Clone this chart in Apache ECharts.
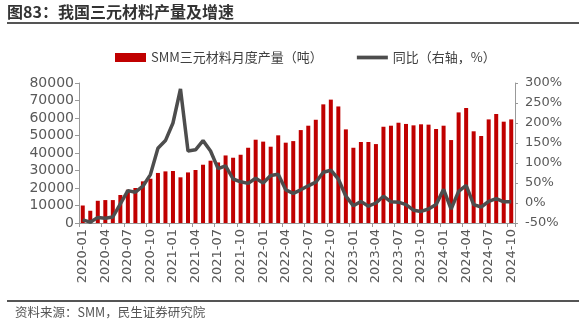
<!DOCTYPE html>
<html><head><meta charset="utf-8">
<script src="https://cdn.jsdelivr.net/npm/echarts@6/dist/echarts.min.js"></script>
<style>html,body{margin:0;padding:0;background:#fff}#c{width:579px;height:328px}</style></head>
<body><div id="c"></div>
<script>
const categories = [
 "2020-01","2020-02","2020-03","2020-04","2020-05","2020-06","2020-07","2020-08","2020-09","2020-10","2020-11","2020-12",
 "2021-01","2021-02","2021-03","2021-04","2021-05","2021-06","2021-07","2021-08","2021-09","2021-10","2021-11","2021-12",
 "2022-01","2022-02","2022-03","2022-04","2022-05","2022-06","2022-07","2022-08","2022-09","2022-10","2022-11","2022-12",
 "2023-01","2023-02","2023-03","2023-04","2023-05","2023-06","2023-07","2023-08","2023-09","2023-10","2023-11","2023-12",
 "2024-01","2024-02","2024-03","2024-04","2024-05","2024-06","2024-07","2024-08","2024-09","2024-10"];
const production = [10000,7000,12700,13100,13100,16000,19000,20000,23800,25300,
 28600,29500,29700,26100,28900,30300,33300,35600,34600,38600,
 37300,39000,43000,47600,46500,43600,50100,45900,46800,53100,
 55600,59000,67800,70500,66600,53500,43000,46300,46300,45100,
 55000,55600,57300,56600,55800,56400,56200,53700,55600,47400,
 63200,65700,52400,49700,59200,62300,57900,59200];
const yoy = [-42,-48,-36,-38,-35,-2,31,27,42,71,
 137,156,200,285,130,133,156,130,86,93,
 60,53,49,62,50,69,72,33,24,33,
 43,52,77,82,60,17,-7,4,-8,0,
 17,3,2,-4,-18,-21,-15,-4,34,-15,
 29,44,-4,-10,4,11,3,3];
const leftTicks = {min:0, max:80000, interval:10000};
const rightTicks = {min:-50, max:300, interval:50};
const seriesNames = ["SMM三元材料月度产量（吨）","同比（右轴，%）"];
const titleText = "图83：我国三元材料产量及增速";
const sourceText = "资料来源：SMM，民生证券研究院";

const cjk = '"Noto Sans CJK SC", sans-serif';
const lat = '"DejaVu Sans", sans-serif';
const chart = echarts.init(document.getElementById('c'), null, {renderer:'canvas'});
chart.setOption({
  animation:false,
  backgroundColor:'#fff',
  graphic:[
    {type:'text', left:7, top:4, style:{text:titleText, font:'bold 16px '+cjk, fill:'#333'}},
    {type:'line', shape:{x1:7,y1:23,x2:579,y2:23}, style:{stroke:'#555',lineWidth:2}},
    {type:'line', shape:{x1:7,y1:301,x2:579,y2:301}, style:{stroke:'#555',lineWidth:2}},
    {type:'text', left:15, top:306, style:{text:sourceText, font:'12.5px '+cjk, fill:'#555'}}
  ],
  legend:{
    left:110, top:46, itemWidth:31, itemHeight:9, itemGap:34,
    textStyle:{fontFamily:cjk, fontSize:13, color:'#404040'},
    data:[{name:seriesNames[0], icon:'rect'},
          {name:seriesNames[1], icon:'path://M0,0H100V12H0Z'}]
  },
  grid:{left:79, right:64, top:83, bottom:105, containLabel:false},
  xAxis:{
    type:'category', data:categories, boundaryGap:true,
    axisLine:{lineStyle:{color:'#999', width:1}},
    axisTick:{show:true, interval:2, length:4, lineStyle:{color:'#999'}},
    axisLabel:{interval:2, rotate:90, fontFamily:lat, fontSize:13, color:'#595959', margin:6}
  },
  yAxis:[
    {type:'value', min:leftTicks.min, max:leftTicks.max, interval:leftTicks.interval,
     splitLine:{show:false},
     axisLine:{show:true, lineStyle:{color:'#999'}},
     axisTick:{show:true, length:4, lineStyle:{color:'#999'}},
     axisLabel:{fontFamily:lat, fontSize:14, color:'#595959', margin:5,
       formatter:function(v){return String(v);}}},
    {type:'value', min:rightTicks.min, max:rightTicks.max, interval:rightTicks.interval,
     splitLine:{show:false}, position:'right',
     axisLine:{show:true, lineStyle:{color:'#999'}},
     axisTick:{show:true, length:3, lineStyle:{color:'#999'}},
     axisLabel:{fontFamily:lat, fontSize:13, color:'#595959', margin:10, formatter:'{value}%'}}
  ],
  series:[
    {name:seriesNames[0], type:'bar', data:production, yAxisIndex:0, barWidth:4,
     itemStyle:{color:'#c00000'}},
    {name:seriesNames[1], type:'line', data:yoy, yAxisIndex:1, symbol:'none',
     lineStyle:{color:'#4d4d4d', width:3.5}, itemStyle:{color:'#4d4d4d'}}
  ]
});
</script></body></html>
